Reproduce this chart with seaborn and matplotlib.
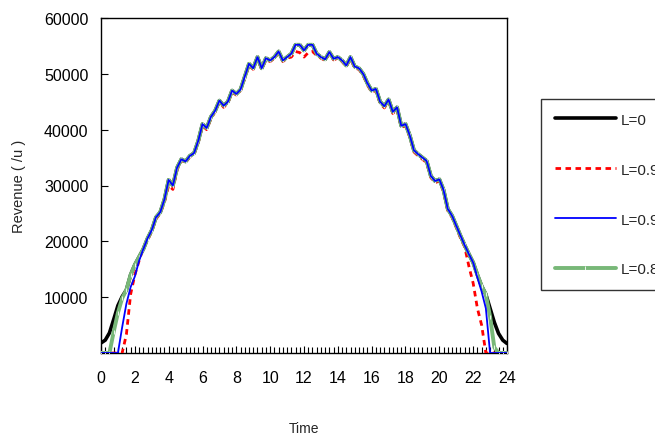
import numpy as np
import pandas as pd
import matplotlib
matplotlib.use("Agg")
import matplotlib.pyplot as plt
import seaborn as sns
from matplotlib.ticker import MultipleLocator

# time grid: 15 minute steps over the day
time_h = np.arange(0, 24.01, 0.25)

rev_l0 = [1800, 2300, 3600, 6000, 8500, 10100, 11300, 14000, 15800, 17200,
          18600, 20500, 22000, 24300, 25200, 27500, 31000, 30000, 33200, 34700,
          34300, 35300, 35800, 38000, 41000, 40300, 42300, 43400, 45200, 44300,
          45000, 47000, 46400, 47200, 49500, 51800, 51000, 53000, 51000, 52800,
          52400, 53000, 54000, 52400, 53000, 53600, 55200, 55200, 54200, 55200,
          55200, 53600, 53000, 52600, 53900, 52700, 53000, 52400, 51500, 53000,
          51300, 51000, 50000, 48300, 47000, 47300, 45000, 44200, 45400, 43200,
          44000, 40700, 41000, 39000, 36300, 35600, 35000, 34400, 31700, 30800,
          31100, 29200, 25800, 24600, 22800, 21000, 19300, 17700, 16200, 14000,
          12000, 10500, 8000, 5500, 3500, 2300, 1700]

rev_l095 = [0, 0, 0, 0, 0, 0, 3300, 10500, 14000, 16500,
            18800, 20200, 21800, 24000, 25000, 27000, 30000, 29300, 32800, 34500,
            34100, 35100, 35600, 37700, 40700, 40000, 42000, 43200, 45000, 44000,
            44800, 46700, 46200, 47000, 49200, 51500, 50800, 52700, 50800, 52500,
            52200, 52800, 53700, 52200, 52800, 53000, 54000, 53800, 53000, 53800,
            54000, 53300, 52800, 52400, 53600, 52500, 52800, 52200, 51300, 52700,
            51000, 50800, 49700, 48000, 46700, 47000, 44700, 43900, 45100, 42900,
            43700, 40400, 40700, 38700, 36000, 35300, 34700, 34100, 31400, 30500,
            30800, 28900, 25500, 24300, 22500, 20600, 19000, 15500, 12500, 8000,
            5000, 0, 0, 0, 0, 0, 0]

rev_l09 = [0, 0, 0, 0, 0, 4600, 8800, 11800, 13700, 16500,
           18600, 20500, 22000, 24300, 25200, 27500, 31000, 30000, 33200, 34700,
           34300, 35300, 35800, 38000, 41000, 40300, 42300, 43400, 45200, 44300,
           45000, 47000, 46400, 47200, 49500, 51800, 51000, 53000, 51000, 52800,
           52400, 53000, 54000, 52400, 53000, 53600, 55200, 55200, 54200, 55200,
           55200, 53600, 53000, 52600, 53900, 52700, 53000, 52400, 51500, 53000,
           51300, 51000, 50000, 48300, 47000, 47300, 45000, 44200, 45400, 43200,
           44000, 40700, 41000, 39000, 36300, 35600, 35000, 34400, 31700, 30800,
           31100, 29200, 25800, 24600, 22800, 21000, 19300, 17700, 16200, 13500,
           11000, 8000, 0, 0, 0, 0, 0]

rev_l08 = [0, 0, 0, 3800, 7200, 9800, 11300, 14000, 15800, 17200,
           18600, 20500, 22000, 24300, 25200, 27500, 31000, 30000, 33200, 34700,
           34300, 35300, 35800, 38000, 41000, 40300, 42300, 43400, 45200, 44300,
           45000, 47000, 46400, 47200, 49500, 51800, 51000, 53000, 51000, 52800,
           52400, 53000, 54000, 52400, 53000, 53600, 55200, 55200, 54200, 55200,
           55200, 53600, 53000, 52600, 53900, 52700, 53000, 52400, 51500, 53000,
           51300, 51000, 50000, 48300, 47000, 47300, 45000, 44200, 45400, 43200,
           44000, 40700, 41000, 39000, 36300, 35600, 35000, 34400, 31700, 30800,
           31100, 29200, 25800, 24600, 22800, 21000, 19300, 17700, 16200, 14000,
           12000, 10500, 6500, 1000, 0, 0, 0]

labels = ["L=0", "L=0.95", "L=0.9", "L=0.8"]
series = [rev_l0, rev_l095, rev_l09, rev_l08]

sns.set_style("white")
plt.rcParams['font.family'] = ['Liberation Sans', 'DejaVu Sans']

fig = plt.figure(figsize=(6.55, 4.39), dpi=100)
ax = fig.add_axes([101 / 655, 1 - 354 / 439, 406 / 655, 335 / 439])

styles = [
    dict(color="black", linewidth=2.6, zorder=2),
    dict(color="#ff0000", linewidth=2.0, linestyle=(0, (2, 1.6)), zorder=3),
    dict(color="#0000ff", linewidth=1.3, zorder=5),
    dict(color="#78b878", linewidth=2.8, zorder=4, marker="|", markersize=3,
         markeredgewidth=0.6),
]

for lab, vals, st in zip(labels, series, styles):
    df = pd.DataFrame({"Time": time_h, "Revenue": vals})
    sns.lineplot(data=df, x="Time", y="Revenue", ax=ax, label=lab, **st)

ax.set_xlim(0, 24)
ax.set_ylim(0, 60000)
ax.xaxis.set_major_locator(MultipleLocator(2))
ax.xaxis.set_minor_locator(MultipleLocator(0.25))
ax.set_yticks([10000, 20000, 30000, 40000, 50000, 60000])
ax.tick_params(axis="x", which="both", bottom=True, direction="in", width=0.8,
               colors="black")
ax.tick_params(axis="x", which="major", length=5, pad=12, labelsize=11.5)
ax.tick_params(axis="x", which="minor", length=4)
ax.tick_params(axis="y", left=True, direction="in", length=5, width=0.8,
               pad=9, labelsize=11.5, colors="black")
for sp in ax.spines.values():
    sp.set_color("black")
    sp.set_linewidth(1.0)

ax.set_xlabel("Time", fontsize=10, labelpad=26)
ax.set_ylabel("Revenue ( /u )", fontsize=10.5, labelpad=13)

leg = ax.legend(loc="upper left", bbox_to_anchor=(541 / 655, 1 - 100 / 439),
                bbox_transform=fig.transFigure, borderaxespad=0,
                frameon=True, fancybox=False, edgecolor="black",
                fontsize=11, labelspacing=2.35, handlelength=4.0,
                handletextpad=0.3, borderpad=0.9)
leg.get_frame().set_linewidth(1.0)

fig.savefig("out.png", dpi=100)
plt.close(fig)
